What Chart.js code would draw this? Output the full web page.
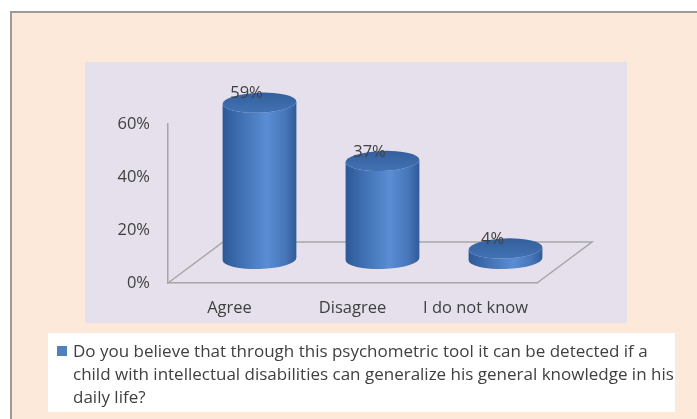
<!DOCTYPE html>
<html>
<head>
<meta charset="utf-8">
<script src="https://cdn.jsdelivr.net/npm/chart.js@4.4.0/dist/chart.umd.min.js"></script>
<style>
  html, body { margin: 0; padding: 0; background: #ffffff; }
  #wrap { width: 697px; height: 419px; }
</style>
</head>
<body>
<div id="wrap"><canvas id="Chart" width="697" height="419"></canvas></div>
<script>
// * Data
const categories = ['Agree', 'Disagree', 'I do not know']
const answers = [59, 37, 4]
const yTicks = [0, 20, 40, 60]
const seriesName = [
    'Do you believe that through this psychometric tool it can be detected if a',
    'child with intellectual disabilities can generalize his general knowledge in his',
    'daily life?'
]

// * Look
const FONT = "'Open Sans', 'DejaVu Sans', sans-serif"
const TEXT = '#404040'
const EDGE = '#a6a6a6'

// 3D floor depth, and where the cylinders sit inside it
const depth = { dx: 55, dy: -41 }
const cyl = { dx: 30, dy: -24, ry: 10 }

// * Background: frame, plot area, legend box
const backdrop = {
    id: 'backdrop',
    beforeDraw(chart) {
        const ctx = chart.ctx
        ctx.save()
        ctx.fillStyle = '#ffffff'
        ctx.fillRect(0, 0, 697, 419)
        ctx.fillStyle = '#fde9d9'
        ctx.fillRect(11, 12, 700, 420)
        ctx.strokeStyle = '#9a9a9a'
        ctx.lineWidth = 2
        ctx.beginPath()
        ctx.moveTo(11, 430)
        ctx.lineTo(11, 12)
        ctx.lineTo(700, 12)
        ctx.stroke()
        // plot area
        ctx.fillStyle = '#e5e0ec'
        ctx.fillRect(85, 62, 542, 261)
        // legend
        ctx.fillStyle = '#ffffff'
        ctx.fillRect(48, 333, 627, 79)
        ctx.fillStyle = '#4f81bd'
        ctx.fillRect(57, 346, 10, 10)
        ctx.fillStyle = TEXT
        ctx.font = '17px ' + FONT
        ctx.textBaseline = 'middle'
        ctx.textAlign = 'left'
        seriesName.forEach((line, i) => ctx.fillText(line, 73, 352 + i * 23))
        ctx.restore()
    },
    beforeDatasetsDraw(chart) {
        // floor outline
        const { ctx, chartArea: a } = chart
        ctx.save()
        ctx.strokeStyle = EDGE
        ctx.lineWidth = 1.5
        ctx.beginPath()
        ctx.moveTo(a.left, a.bottom)
        ctx.lineTo(a.left + depth.dx, a.bottom + depth.dy)
        ctx.lineTo(a.right + depth.dx, a.bottom + depth.dy)
        ctx.lineTo(a.right, a.bottom)
        ctx.stroke()
        ctx.restore()
    }
}

// * Cylinders drawn on top of the (invisible) bars
const cylinders = {
    id: 'cylinders',
    afterDatasetsDraw(chart) {
        const ctx = chart.ctx
        const meta = chart.getDatasetMeta(0)
        meta.data.forEach((bar, i) => {
            const rx = bar.width / 2
            const cx = bar.x + cyl.dx
            const top = bar.y + cyl.dy
            const base = bar.base + cyl.dy
            const ry = cyl.ry
            const tilt = -0.035

            ctx.save()
            // body
            const g = ctx.createLinearGradient(cx - rx, 0, cx + rx, 0)
            g.addColorStop(0, '#2d5895')
            g.addColorStop(0.2, '#3c6cae')
            g.addColorStop(0.6, '#5a8dd4')
            g.addColorStop(0.85, '#4776b9')
            g.addColorStop(1, '#2f5b98')
            ctx.fillStyle = g
            ctx.beginPath()
            ctx.moveTo(cx - rx, top)
            ctx.lineTo(cx - rx, base)
            ctx.ellipse(cx, base, rx, ry, tilt, Math.PI, 0, true)
            ctx.lineTo(cx + rx, top)
            ctx.ellipse(cx, top, rx, ry, tilt, 0, Math.PI, false)
            ctx.closePath()
            ctx.fill()

            // lid
            const t = ctx.createLinearGradient(0, top - ry, 0, top + ry)
            t.addColorStop(0, '#345f9c')
            t.addColorStop(1, '#4272b4')
            ctx.fillStyle = t
            ctx.beginPath()
            ctx.ellipse(cx, top, rx, ry, tilt, 0, Math.PI * 2)
            ctx.fill()

            // value label
            ctx.fillStyle = TEXT
            ctx.font = '16.5px ' + FONT
            ctx.textAlign = 'center'
            ctx.textBaseline = 'middle'
            ctx.fillText(answers[i] + '%', bar.x + 17, bar.y - 33)
            ctx.restore()
        })
    }
}

// * Config Block
const config = {
    type: 'bar',
    data: {
        labels: categories,
        datasets: [{
            label: seriesName.join(' '),
            data: answers,
            backgroundColor: 'rgba(0,0,0,0)',
            borderWidth: 0,
            barPercentage: 0.6,
            categoryPercentage: 1
        }]
    },
    options: {
        responsive: false,
        animation: false,
        events: [],
        layout: {
            padding: { left: 0, right: 160, top: 124, bottom: 96 }
        },
        plugins: {
            legend: { display: false },
            tooltip: { enabled: false }
        },
        scales: {
            x: {
                afterFit: (s) => { s.height = 40 },
                grid: { display: false, drawTicks: false },
                border: { display: true, color: EDGE, width: 1.5 },
                ticks: {
                    padding: 15,
                    color: TEXT,
                    font: { family: FONT, size: 16.5 }
                }
            },
            y: {
                min: yTicks[0],
                max: yTicks[yTicks.length - 1],
                afterFit: (s) => { s.width = 168 },
                afterBuildTicks: (s) => { s.ticks = yTicks.map(v => ({ value: v })) },
                grid: { display: false, drawTicks: false },
                border: { display: true, color: EDGE, width: 1.5 },
                ticks: {
                    padding: 18,
                    color: TEXT,
                    font: { family: FONT, size: 16.5 },
                    callback: (v) => v + '%'
                }
            }
        }
    },
    plugins: [backdrop, cylinders]
}

// * Init / Render Block
const chart3d = new Chart(document.getElementById('Chart'), config)
</script>
</body>
</html>
